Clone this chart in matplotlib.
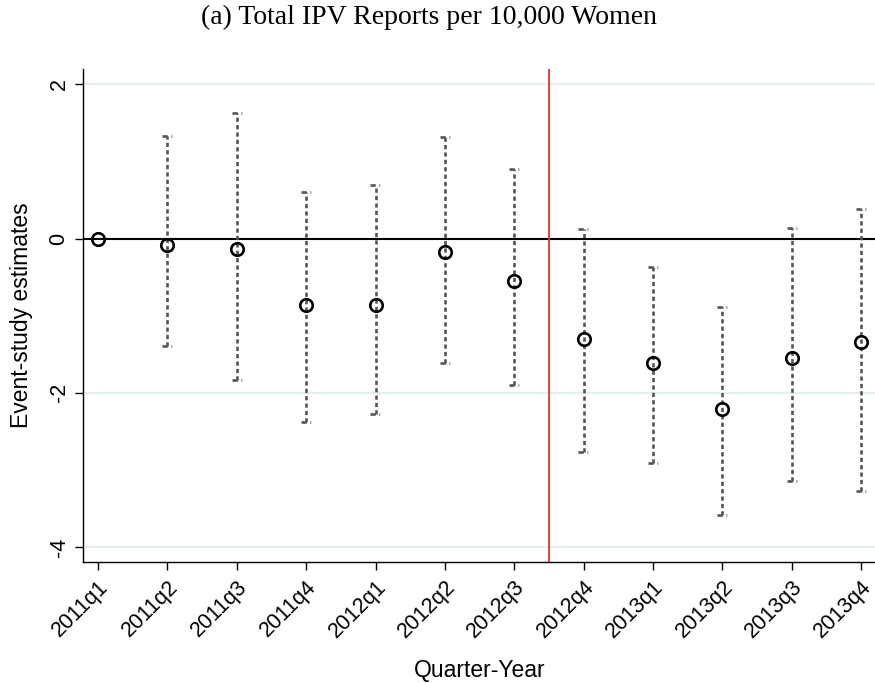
import matplotlib
matplotlib.use("Agg")
import matplotlib.pyplot as plt
import numpy as np

quarters = ["2011q1", "2011q2", "2011q3", "2011q4", "2012q1", "2012q2",
            "2012q3", "2012q4", "2013q1", "2013q2", "2013q3", "2013q4"]
estimates = [0.0, -0.08, -0.14, -0.86, -0.86, -0.18,
             -0.55, -1.30, -1.61, -2.21, -1.55, -1.34]
ci_upper = [np.nan, 1.33, 1.63, 0.60, 0.70, 1.32,
            0.90, 0.13, -0.37, -0.89, 0.14, 0.39]
ci_lower = [np.nan, -1.40, -1.84, -2.38, -2.28, -1.62,
            -1.90, -2.77, -2.91, -3.58, -3.15, -3.28]
event_pos = 6.5  # treatment starts between 2012q3 and 2012q4

plt.rcParams['font.family'] = ['Liberation Sans', 'DejaVu Sans']

fig = plt.figure(figsize=(8.75, 6.83), dpi=100)
ax = fig.add_axes([0.0954, 0.1767, 0.9046, 0.7223])

x = np.arange(len(quarters))
grey = "#555555"
dash = (0, (1.6, 1.2))

# light horizontal grid
for g in [2, -2, -4]:
    ax.axhline(g, color="#e6eef0", lw=1.6, zorder=0)

# confidence intervals, dashed with half caps
ax.vlines(x, ci_lower, ci_upper, colors=grey, linestyles=dash, lw=1.9, zorder=2)
for xi, lo, hi in zip(x, ci_lower, ci_upper):
    if np.isnan(lo):
        continue
    for yv in (lo, hi):
        ax.hlines(yv, xi - 0.075, xi + 0.07, colors=grey, lw=1.9,
                  linestyles=(0, (2.0, 1.4, 0.3, 5)), zorder=2)

ax.axhline(0, color="black", lw=1.5, zorder=1)
ax.axvline(event_pos, color="#e8322b", lw=1.3, zorder=1)

ax.plot(x, estimates, "o", ms=9, mfc="none", mec="black", mew=1.9, zorder=3)

ax.set_xlim(-0.21, 11.2)
ax.set_ylim(-4.2, 2.2)
ax.set_yticks([-4, -2, 0, 2])
ax.set_yticklabels(["-4", "-2", "0", "2"], rotation=90, va="center")
ax.set_xticks(x)
ax.set_xticklabels(quarters, rotation=45, ha="right", rotation_mode="anchor")
ax.tick_params(axis="both", labelsize=15.5, length=6, width=1, color="black")
ax.tick_params(axis="x", pad=4)
ax.tick_params(axis="y", pad=4)

for side in ["top", "right"]:
    ax.spines[side].set_visible(False)
for side in ["left", "bottom"]:
    ax.spines[side].set_linewidth(1.0)

ax.set_ylabel("Event-study estimates", fontsize=16.5, labelpad=11)
ax.set_xlabel("Quarter-Year", fontsize=16.5, labelpad=12)

fig.text(0.49, 0.975, "(a) Total IPV Reports per 10,000 Women",
         ha="center", va="center", fontsize=20,
         family=["Liberation Serif", "DejaVu Serif"])

fig.savefig("out.png", dpi=100)
